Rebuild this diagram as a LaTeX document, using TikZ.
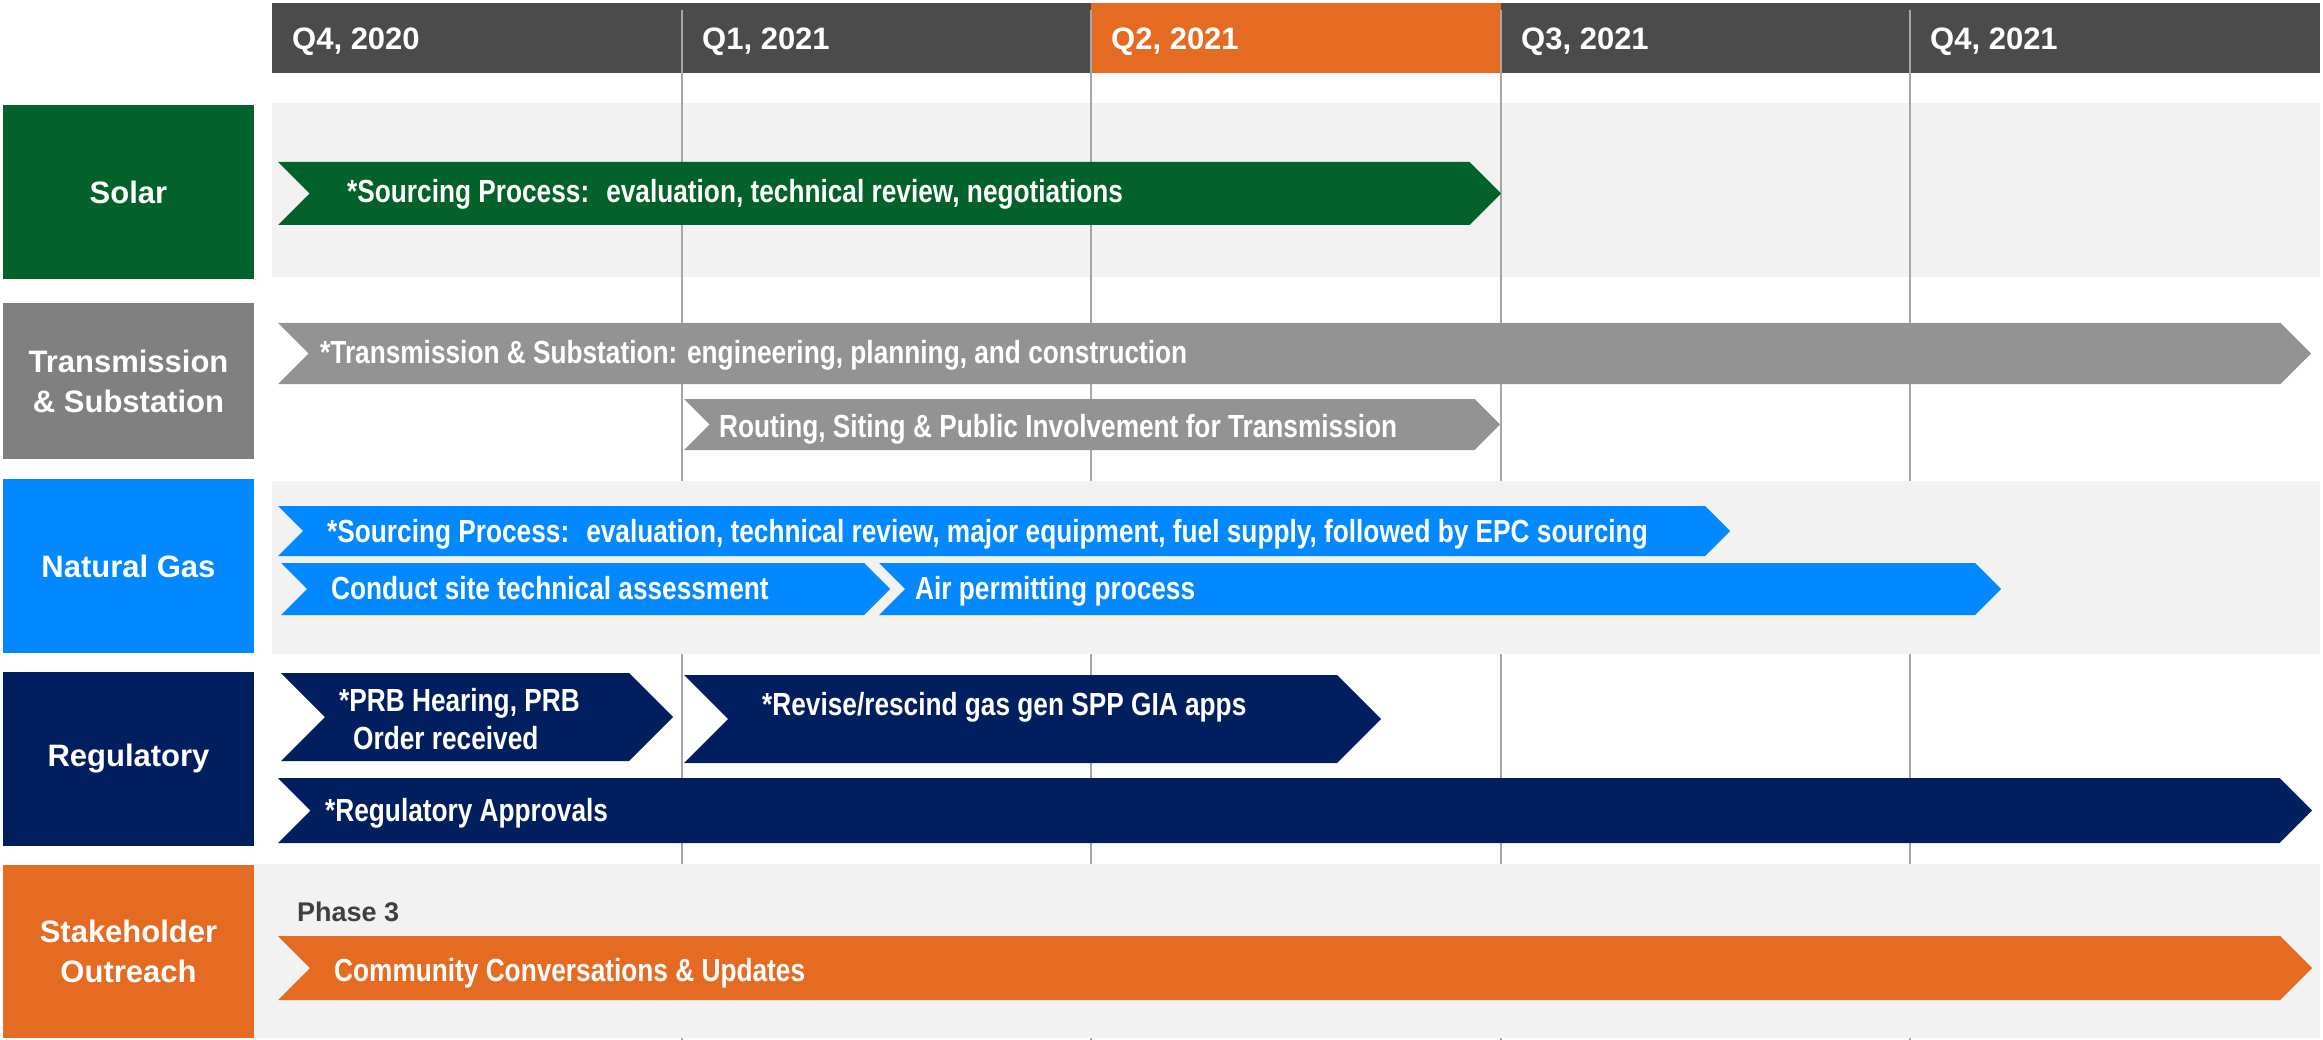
\documentclass[tikz,border=0pt]{standalone}
\usepackage{fontspec}
\setmainfont{Liberation Sans}
\newfontfamily\narrowfont{Liberation Sans}[FakeStretch=0.82]
\usepackage{tikz}

\definecolor{hdgray}{HTML}{4B4B4B}
\definecolor{hdorange}{HTML}{E46B21}
\definecolor{solargreen}{HTML}{03622A}
\definecolor{trgray}{HTML}{808080}
\definecolor{barblue}{HTML}{0288FF}
\definecolor{regnavy}{HTML}{011F5E}
\definecolor{band}{HTML}{F2F2F2}
\definecolor{grid}{HTML}{A6A6A6}
\definecolor{phasegray}{HTML}{404040}

% chevron bar: x1, y1, x2, y2, colour
\newcommand{\chevbar}[5]{\fill[color=#5] (#1,#2) -- ({#3-(#4-#2)/2},#2) -- (#3,{(#2+#4)/2}) -- ({#3-(#4-#2)/2},#4) -- (#1,#4) -- ({#1+(#4-#2)/2},{(#2+#4)/2}) -- cycle;}

\begin{document}
\begin{tikzpicture}[line join=round,x=1pt,y=-1pt,
  lblbox/.style={minimum width=251pt,inner sep=0pt,text=white,align=center,font=\fontsize{31}{40}\selectfont\bfseries},
  bartxt/.style={anchor=base west,inner sep=0pt,text=white,font=\narrowfont\fontsize{32}{38}\selectfont\bfseries},
  qtxt/.style={anchor=base west,inner sep=0pt,text=white,font=\fontsize{31}{36}\selectfont\bfseries}]
     \useasboundingbox (0,0) rectangle (2323,1040);
     \fill[color=white] (0,0) rectangle (2323,1040); % Hintergrund

     \foreach \x/\q/\c in {272/{Q4, 2020}/hdgray,682/{Q1, 2021}/hdgray,1091/{Q2, 2021}/hdorange,1501/{Q3, 2021}/hdgray,1910/{Q4, 2021}/hdgray}
     \fill[color=\c] (\x,3) rectangle (\x+410,73) node[qtxt] (q\x) at (\x+20,50) {\q}; % Quartale

     \fill[color=band] (272,103) rectangle (2320,277); % Band Solar
     \foreach \x in {682,1091,1501,1910}
     \draw[color=grid,line width=1.5pt] (\x,10) -- (\x,1040); % Trennlinien
     \fill[color=band] (272,481) rectangle (2320,654); % Band Natural Gas
     \fill[color=band] (254,864) rectangle (2320,1038); % Band Stakeholder

     \node[lblbox,fill=solargreen,minimum height=174pt] (solar) at (128.5,192) {Solar};
     \node[lblbox,fill=trgray,minimum height=156pt] (trans) at (128.5,381) {Transmission\\\& Substation};
     \node[lblbox,fill=barblue,minimum height=174pt] (gas) at (128.5,566) {Natural Gas};
     \node[lblbox,fill=regnavy,minimum height=174pt] (reg) at (128.5,759) {Regulatory};
     \node[lblbox,fill=hdorange,minimum height=173pt] (outreach) at (128.5,951.5) {Stakeholder\\Outreach};

     \chevbar{278}{162}{1501}{225}{solargreen} % Solar
     \node[bartxt] (srcsolar) at (347,203) {*Sourcing Process:~ evaluation, technical review, negotiations};

     \chevbar{278}{323}{2311}{384}{trgray!85!white} % Transmission
     \node[bartxt] (trbuild) at (320,363) {*Transmission \& Substation: engineering, planning, and construction};
     \chevbar{684}{399}{1500}{450}{trgray!85!white}
     \node[bartxt] (routing) at (719,437) {Routing, Siting \& Public Involvement for Transmission};

     \chevbar{278}{506}{1730}{556}{barblue} % Natural Gas
     \node[bartxt] (srcgas) at (327,542) {*Sourcing Process:~ evaluation, technical review, major equipment, fuel supply, followed by EPC sourcing};
     \chevbar{281}{563}{890}{615}{barblue}
     \node[bartxt] (site) at (331,599) {Conduct site technical assessment};
     \chevbar{879}{563}{2001}{615}{barblue}
     \node[bartxt] (air) at (915,599) {Air permitting process};

     \chevbar{281}{673}{673}{761}{regnavy} % Regulatory
     \node[bartxt] (prbA) at (339,711) {*PRB Hearing, PRB};
     \node[bartxt] (prbB) at (353,749) {Order received};
     \chevbar{684}{675}{1381}{763}{regnavy}
     \node[bartxt] (revise) at (762,715) {*Revise/rescind gas gen SPP GIA apps};
     \chevbar{278}{778}{2312}{843}{regnavy}
     \node[bartxt] (approvals) at (325,821) {*Regulatory Approvals};

     \node[anchor=base west,inner sep=0pt,text=phasegray,font=\fontsize{27}{32}\selectfont\bfseries] (phase) at (297,921) {Phase 3};
     \chevbar{278}{936}{2312}{1000}{hdorange} % Stakeholder
     \node[bartxt] (community) at (334,981) {Community Conversations \& Updates};
\end{tikzpicture}
\end{document}
